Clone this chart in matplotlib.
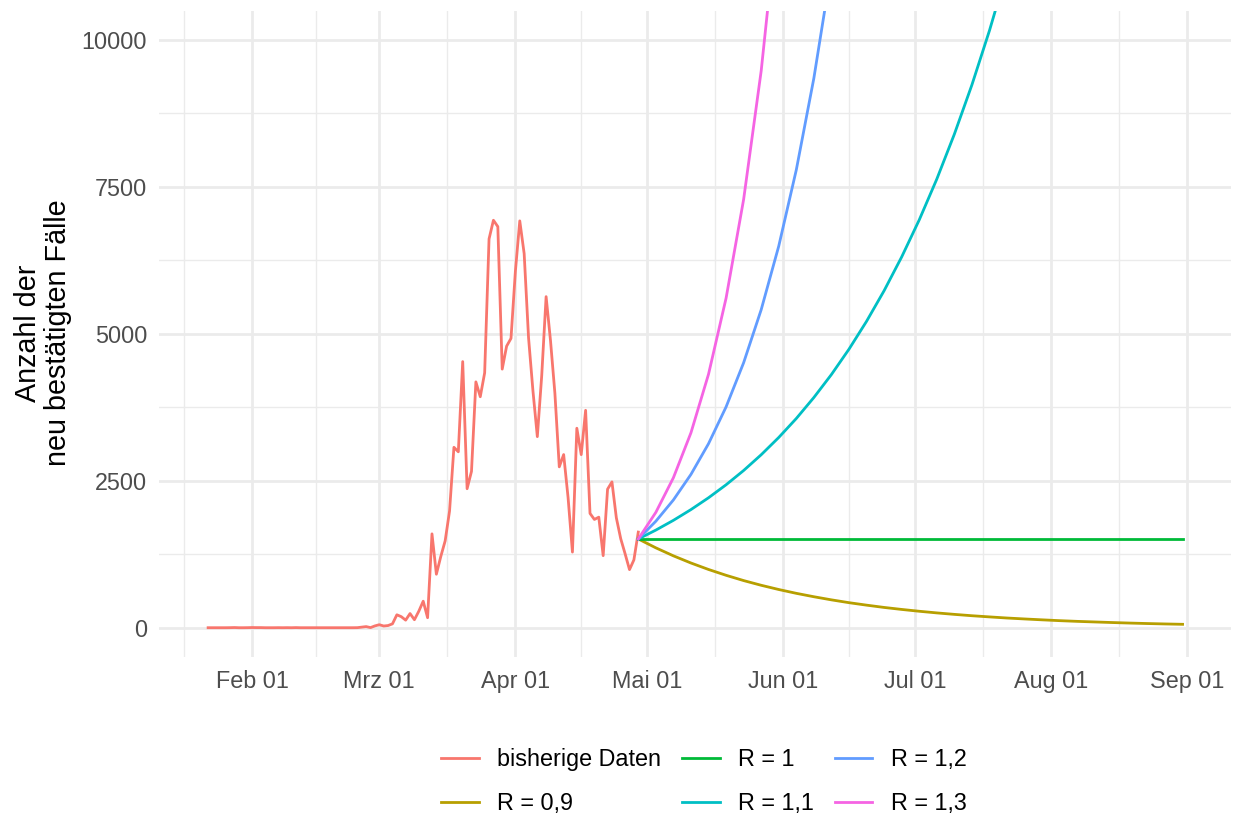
import numpy as np
import matplotlib
matplotlib.use("Agg")
import matplotlib.pyplot as plt
import matplotlib.dates as mdates
from matplotlib.lines import Line2D

plt.rcParams['font.family'] = ['Liberation Sans', 'DejaVu Sans']

# ---------------- data ----------------
data_start = '2020-01-22'
data_end = '2020-04-30'   # exclusive
daily_cases = [
    0, 0, 0, 0, 0, 1, 3, 0, 0, 1,                       # Jan 22-31
    3, 2, 2, 0, 0, 0, 1, 0, 1, 0, 2, 0, 0, 0, 0, 0,     # Feb 1-16
    0, 0, 0, 0, 0, 0, 0, 0, 1, 10, 19, 2, 31,           # Feb 17-29
    51, 29, 37, 66, 220, 188, 129, 241, 136, 281, 451, 170, 1597, 910, 1210, 1477,
    1985, 3070, 2993, 4528, 2365, 2660, 4183, 3930, 4337, 6615, 6933, 6824, 4400,
    4790, 4923,                                          # Mar
    6064, 6922, 6365, 4933, 4031, 3251, 4289, 5633, 4885, 3990, 2737, 2946, 2218,
    1287, 3394, 2945, 3699, 1945, 1842, 1881, 1226, 2357, 2481, 1870, 1514, 1257,
    988, 1154, 1627,                                     # Apr 1-29
]

proj_start = '2020-04-29'
proj_end = '2020-09-01'   # exclusive, 4-day steps
proj_step_days = 4
proj_r09 = [1510, 1359, 1223, 1101, 991, 892, 802, 722, 650, 585, 527, 474, 426, 384,
            345, 311, 280, 252, 227, 204, 184, 165, 149, 134, 120, 108, 98, 88, 79, 71,
            64, 58]
proj_r10 = [1510, 1510, 1510, 1510, 1510, 1510, 1510, 1510, 1510, 1510, 1510, 1510,
            1510, 1510, 1510, 1510, 1510, 1510, 1510, 1510, 1510, 1510, 1510, 1510,
            1510, 1510, 1510, 1510, 1510, 1510, 1510, 1510]
proj_r11 = [1510, 1661, 1827, 2010, 2211, 2432, 2675, 2943, 3237, 3560, 3917, 4308,
            4739, 5213, 5734, 6308, 6938, 7632, 8396, 9235, 10159, 11174, 12292, 13521,
            14873, 16360, 17996, 19796, 21776, 23953, 26349, 28984]
proj_r12 = [1510, 1812, 2174, 2609, 3131, 3757, 4509, 5411, 6493, 7791, 9350, 11220,
            13463, 16156, 19387, 23265, 27918, 33501, 40201, 48242, 57890, 69468,
            83361, 100034, 120040, 144048, 172858, 207430, 248915, 298699, 358438,
            430126]
proj_r13 = [1510, 1963, 2552, 3317, 4313, 5607, 7288, 9475, 12318, 16013, 20816,
            27062, 35180, 45734, 59454, 77291, 100478, 130621, 169808, 220750, 286975,
            373067, 484988, 630484, 819629, 1065518, 1385173, 1800725, 2340943,
            3043226, 3956193, 5143051]

series_labels = ['bisherige Daten', 'R = 0,9', 'R = 1', 'R = 1,1', 'R = 1,2', 'R = 1,3']
series_colors = ['#F8766D', '#B79F00', '#00BA38', '#00BFC4', '#619CFF', '#F564E3']

y_ticks = [0, 2500, 5000, 7500, 10000]
y_ticklabels = ['0', '2500', '5000', '7500', '10000']
x_tick_dates = ['2020-02-01', '2020-03-01', '2020-04-01', '2020-05-01',
                '2020-06-01', '2020-07-01', '2020-08-01', '2020-09-01']
x_ticklabels = ['Feb 01', 'Mrz 01', 'Apr 01', 'Mai 01', 'Jun 01', 'Jul 01',
                'Aug 01', 'Sep 01']
y_title = 'Anzahl der\nneu bestätigten Fälle'

# ---------------- figure ----------------
W, H = 1235, 818
fig = plt.figure(figsize=(W / 100, H / 100), dpi=100)
left_px, right_px = 159.4, 1231.3
top_px, bottom_px = 10.6, 657.1
ax = fig.add_axes([left_px / W, 1 - bottom_px / H,
                   (right_px - left_px) / W, (bottom_px - top_px) / H])

data_dates = mdates.date2num(np.arange(data_start, data_end, dtype='datetime64[D]'))
proj_dates = mdates.date2num(np.arange(proj_start, proj_end, proj_step_days,
                                       dtype='datetime64[D]'))

lw = 2.0
ax.plot(data_dates, daily_cases, color=series_colors[0], lw=lw, zorder=3)
for vals, col in zip([proj_r09, proj_r10, proj_r11, proj_r12, proj_r13],
                     series_colors[1:]):
    ax.plot(proj_dates, vals, color=col, lw=lw, zorder=3)

# limits (ggplot 5% expansion)
xmin, xmax = data_dates[0], proj_dates[-1]
span = xmax - xmin
ax.set_xlim(xmin - 0.05 * span, xmax + 0.05 * span)
ax.set_ylim(-500, 10500)

# ticks
major_x = mdates.date2num(np.array(x_tick_dates, dtype='datetime64[D]'))
ax.set_xticks(major_x)
ax.set_xticklabels(x_ticklabels)
ext = mdates.date2num(np.array(['2020-01-01'] + x_tick_dates + ['2020-10-01'],
                               dtype='datetime64[D]'))
minor_x = [(a + b) / 2 for a, b in zip(ext[:-1], ext[1:])]
lo, hi = ax.get_xlim()
ax.set_xticks([m for m in minor_x if lo <= m <= hi], minor=True)
ax.set_yticks(y_ticks)
ax.set_yticklabels(y_ticklabels)
ax.set_yticks([1250, 3750, 6250, 8750], minor=True)

ax.tick_params(which='both', length=0)
ax.tick_params(axis='both', which='major', labelsize=16.8, labelcolor='#4D4D4D')
ax.tick_params(axis='x', pad=9.0)
ax.tick_params(axis='y', pad=8.8)

ax.grid(which='major', color='#EBEBEB', lw=2.0)
ax.grid(which='minor', color='#EBEBEB', lw=1.0)
ax.set_axisbelow(True)
for s in ax.spines.values():
    s.set_visible(False)

fig.text(43 / W, 1 - 333 / H, y_title, rotation=90, ha='center', va='center',
         multialignment='center', fontsize=20.7, color='black', linespacing=1.08)

handles = [Line2D([], [], color=c, lw=lw) for c in series_colors]
fig.legend(handles, series_labels, loc='center',
           bbox_to_anchor=(704 / W, 1 - 781.5 / H), ncol=3, frameon=False,
           fontsize=16.8, handlelength=1.6, handletextpad=0.8,
           columnspacing=0.9, labelspacing=0.9, borderpad=0, borderaxespad=0)

fig.savefig('out.png', dpi=100)
